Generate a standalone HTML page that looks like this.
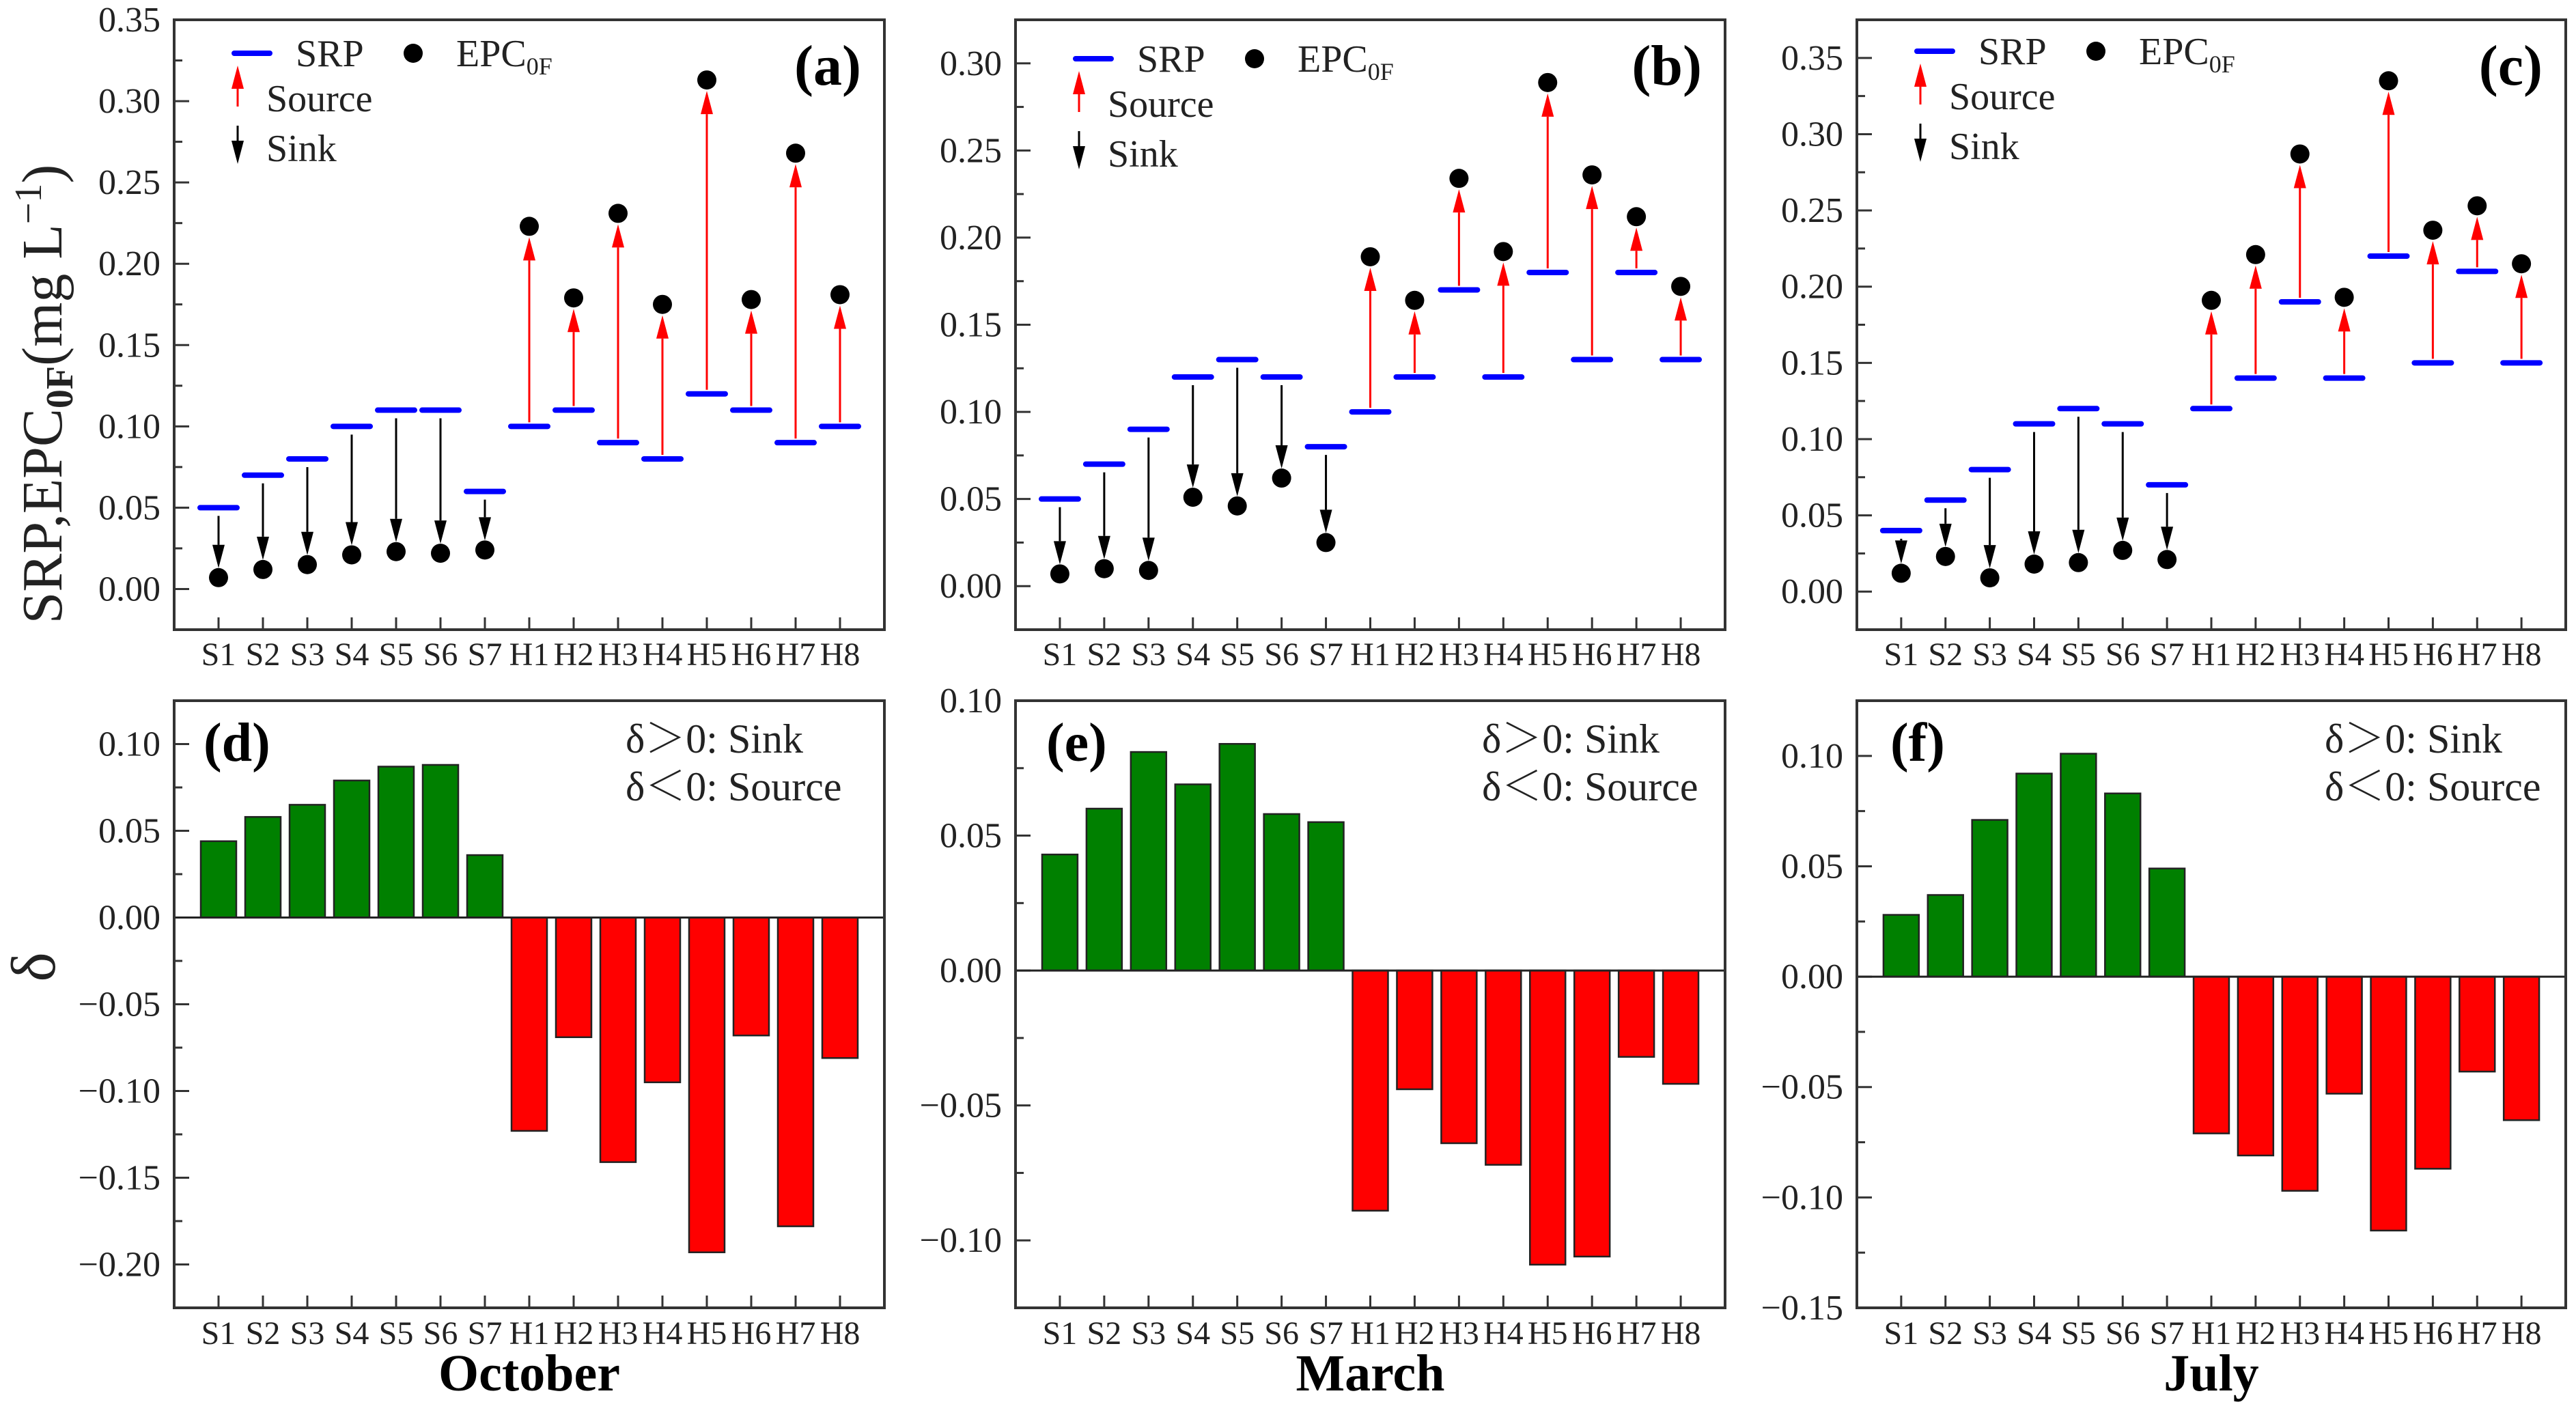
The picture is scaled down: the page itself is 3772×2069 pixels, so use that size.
<!DOCTYPE html>
<html><head><meta charset="utf-8"><style>
html,body{margin:0;padding:0;background:#fff}
svg{display:block}
text{font-family:"Liberation Serif","Noto Serif CJK SC",serif;fill:#222}
</style></head><body>
<svg id="fig" width="3772" height="2069" viewBox="0 0 3772 2069" xmlns="http://www.w3.org/2000/svg"></svg>
<script>
const categories=["S1","S2","S3","S4","S5","S6","S7","H1","H2","H3","H4","H5","H6","H7","H8"];
const srpOct=[0.05,0.07,0.08,0.10,0.11,0.11,0.06,0.10,0.11,0.09,0.08,0.12,0.11,0.09,0.10];
const epcOct=[0.007,0.012,0.015,0.021,0.023,0.022,0.024,0.223,0.179,0.231,0.175,0.313,0.178,0.268,0.181];
const srpMar=[0.05,0.07,0.09,0.12,0.13,0.12,0.08,0.10,0.12,0.17,0.12,0.18,0.13,0.18,0.13];
const epcMar=[0.007,0.010,0.009,0.051,0.046,0.062,0.025,0.189,0.164,0.234,0.192,0.289,0.236,0.212,0.172];
const srpJul=[0.04,0.06,0.08,0.11,0.12,0.11,0.07,0.12,0.14,0.19,0.14,0.22,0.15,0.21,0.15];
const epcJul=[0.012,0.023,0.009,0.018,0.019,0.027,0.021,0.191,0.221,0.287,0.193,0.335,0.237,0.253,0.215];
const deltaOct=[0.044,0.058,0.065,0.079,0.087,0.088,0.036,-0.123,-0.069,-0.141,-0.095,-0.193,-0.068,-0.178,-0.081];
const deltaMar=[0.043,0.060,0.081,0.069,0.084,0.058,0.055,-0.089,-0.044,-0.064,-0.072,-0.109,-0.106,-0.032,-0.042];
const deltaJul=[0.028,0.037,0.071,0.092,0.101,0.083,0.049,-0.071,-0.081,-0.097,-0.053,-0.115,-0.087,-0.043,-0.065];
const months=["October","March","July"];

const NS="http://www.w3.org/2000/svg";
const svg=document.getElementById('fig');
function mk(tag,attrs,parent){const e=document.createElementNS(NS,tag);for(const k in attrs)e.setAttribute(k,attrs[k]);(parent||svg).appendChild(e);return e;}
function fmt(v){const s=Math.abs(v).toFixed(2);return v<-1e-9?"\u2212"+s:s;}

const cols=[{x0:255,x1:1295},{x0:1487,x1:2526},{x0:2719,x1:3757}];
const topY={y0:29,y1:922};
const botY={y0:1026,y1:1915};
const topDom=[[-0.025,0.35],[-0.025,0.325],[-0.025,0.375]];
const botDom=[[-0.225,0.125],[-0.125,0.10],[-0.15,0.125]];
const topLetters=["(a)","(b)","(c)"],botLetters=["(d)","(e)","(f)"];
const srpSets=[srpOct,srpMar,srpJul],epcSets=[epcOct,epcMar,epcJul],deltaSets=[deltaOct,deltaMar,deltaJul];

function axes(g,c,Y,dom,labelY){
  const n=categories.length;
  const xs=i=>c.x0+(c.x1-c.x0)*(i+1)/(n+1);
  const ys=v=>Y.y1-(v-dom[0])/(dom[1]-dom[0])*(Y.y1-Y.y0);
  const start=Math.ceil(dom[0]/0.025-1e-6);
  const end=Math.floor(dom[1]/0.025+1e-6);
  for(let k=start;k<=end;k++){
    const v=k*0.025,y=ys(v),major=(k%2===0);
    const t=mk('line',{x1:c.x0,x2:c.x0+(major?22:12),y1:y,y2:y,stroke:'#333','stroke-width':3},g);
    
    
    if(major){
      const tl=mk('text',{x:c.x0-20,y:y+17,'font-size':52,'text-anchor':'end'},g);
      tl.textContent=fmt(v);
      
      
    }
  }
  categories.forEach((cat,i)=>{
    const x=xs(i);
    const t=mk('line',{x1:x,x2:x,y1:Y.y1,y2:Y.y1-18,stroke:'#333','stroke-width':3},g);
    
    
    const tl=mk('text',{x:x,y:labelY,'font-size':48,'text-anchor':'middle'},g);
    tl.textContent=cat;
    
    
  });
  return {xs,ys};
}
function frame(g,c,Y){
  const r=mk('rect',{x:c.x0,y:Y.y0,width:c.x1-c.x0,height:Y.y1-Y.y0,fill:'none',stroke:'#333','stroke-width':4},g);
  
  
}
function arrow(g,x,yFrom,yTo,color){
  const dir=yTo>yFrom?1:-1,head=34,hw=9;
  const yb=yTo-dir*head;
  mk('line',{x1:x,x2:x,y1:yFrom,y2:yb,stroke:color,'stroke-width':3},g);
  mk('polygon',{points:`${x-hw},${yb} ${x+hw},${yb} ${x},${yTo}`,fill:color},g);
}

for(let p=0;p<3;p++){
  const c=cols[p];
  const g=mk('g',{});
  
  
  const {xs,ys}=axes(g,c,topY,topDom[p],974);
  const srp=srpSets[p],epc=epcSets[p];
  categories.forEach((cat,i)=>{
    const x=xs(i),ysrp=ys(srp[i]),yepc=ys(epc[i]);
    const ag=mk('g',{},g);
    
    
    if(epc[i]>srp[i]) arrow(ag,x,ysrp-6,yepc+16,'#ff0000');
    else arrow(ag,x,ysrp+12,yepc-14,'#000');
    const d=mk('line',{x1:x-27,x2:x+27,y1:ysrp,y2:ysrp,stroke:'#0000ff','stroke-width':8,'stroke-linecap':'round'},g);
    
    
    const ci=mk('circle',{cx:x,cy:yepc,r:14,fill:'#000'},g);
    
    
  });
  frame(g,c,topY);
  const ly=[78,86,75][p],lx=c.x0;
  const lg=mk('g',{},g);
  
  
  mk('line',{x1:lx+88,x2:lx+140,y1:ly,y2:ly,stroke:'#0000ff','stroke-width':8,'stroke-linecap':'round'},lg);
  let t=mk('text',{x:lx+178,y:ly+19,'font-size':56},lg);t.textContent='SRP';
  
  
  mk('circle',{cx:lx+350,cy:ly,r:14,fill:'#000'},lg);
  t=mk('text',{x:lx+413,y:ly+19,'font-size':56},lg);
  t.innerHTML='EPC<tspan font-size="36" dy="12">0F</tspan>';
  
  
  arrow(lg,lx+93,ly+78,ly+18,'#ff0000');
  t=mk('text',{x:lx+135,y:ly+85,'font-size':56},lg);t.textContent='Source';
  
  
  arrow(lg,lx+93,ly+106,ly+162,'#000');
  t=mk('text',{x:lx+135,y:ly+158,'font-size':56},lg);t.textContent='Sink';
  
  
  t=mk('text',{x:c.x1-34,y:124,'font-size':84,'font-weight':'bold','text-anchor':'end',style:'fill:#000'},g);
  t.textContent=topLetters[p];
  
  

  const g2=mk('g',{});
  
  
  const A=axes(g2,c,botY,botDom[p],1968);
  const dl=deltaSets[p];
  const bw=(c.x1-c.x0)/(categories.length+1)*0.8;
  const y0=A.ys(0);
  categories.forEach((cat,i)=>{
    const yv=A.ys(dl[i]);
    const b=mk('rect',{x:A.xs(i)-bw/2,y:Math.min(y0,yv),width:bw,height:Math.abs(yv-y0),fill:dl[i]>=0?'#008000':'#ff0000',stroke:'#222','stroke-width':2.5},g2);
    
    
  });
  const zl=mk('line',{x1:c.x0,x2:c.x1,y1:y0,y2:y0,stroke:'#222','stroke-width':3},g2);
  
  
  frame(g2,c,botY);
  const lxo=[661,683,685][p];
  t=mk('text',{x:c.x0+lxo,y:1102,'font-size':60},g2);t.textContent='δ＞0: Sink';
  
  
  t=mk('text',{x:c.x0+lxo,y:1172,'font-size':60},g2);t.textContent='δ＜0: Source';
  
  
  const lo=[43,45,49][p];
  t=mk('text',{x:c.x0+lo,y:1114,'font-size':80,'font-weight':'bold',style:'fill:#000'},g2);
  t.textContent=botLetters[p];
  
  
  t=mk('text',{x:(c.x0+c.x1)/2,y:2036,'font-size':76,'font-weight':'bold','text-anchor':'middle',style:'fill:#000'},g2);
  t.textContent=months[p];
  
  
}
let yt=mk('text',{x:0,y:0,'font-size':84,'text-anchor':'middle',transform:'translate(90,577) rotate(-90)'});
yt.innerHTML='SRP,EPC<tspan font-size="56" font-weight="bold" dy="16">0F</tspan><tspan dy="-16">(mg L</tspan><tspan font-size="56" dy="-30">−1</tspan><tspan dy="30">)</tspan>';


yt=mk('text',{x:0,y:0,'font-size':92,'text-anchor':'middle',transform:'translate(80,1416) rotate(-90)'});
yt.textContent='δ';


</script>
</body></html>
